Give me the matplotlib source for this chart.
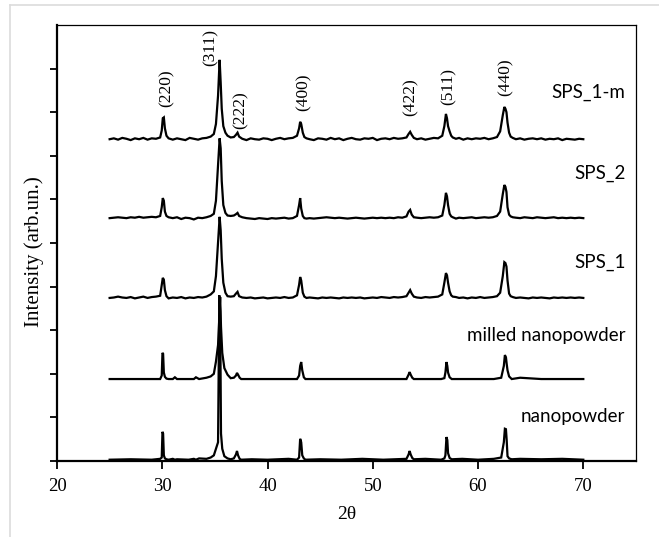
import matplotlib
matplotlib.use("Agg")
import matplotlib.pyplot as plt
from matplotlib.lines import Line2D

# 2-theta grid shared by the three sintered (SPS) patterns
two_theta_sps = [
    25.0, 25.4, 25.8, 26.2, 26.6, 27.0, 27.4, 27.8, 28.2, 28.6, 29.0, 29.4, 29.8,
    29.95, 30.05, 30.15, 30.25, 30.4, 30.6,
    31.0, 31.4, 31.8, 32.2, 32.6, 33.0, 33.4, 33.8, 34.2, 34.6, 34.9,
    35.1, 35.3, 35.45, 35.55, 35.65, 35.8, 36.0, 36.2, 36.5,
    36.8, 37.0, 37.15, 37.3, 37.6,
    38.0, 38.4, 38.8, 39.2, 39.6, 40.0, 40.4, 40.8, 41.2, 41.6, 42.0, 42.4, 42.8,
    43.0, 43.1, 43.2, 43.35, 43.5, 43.7,
    44.0, 44.4, 44.8, 45.2, 45.6, 46.0, 46.4, 46.8, 47.2, 47.6, 48.0, 48.4,
    48.8, 49.2, 49.6, 50.0, 50.4, 50.8, 51.2, 51.6, 52.0, 52.4, 52.8, 53.2,
    53.4, 53.55, 53.7, 53.9,
    54.2, 54.6, 55.0, 55.4, 55.8, 56.2, 56.6,
    56.8, 56.95, 57.05, 57.15, 57.3, 57.45, 57.6,
    57.9, 58.2, 58.6, 59.0, 59.4, 59.8, 60.2, 60.6, 61.0, 61.4, 61.8,
    62.1, 62.35, 62.5, 62.6, 62.7, 62.8, 62.95, 63.1, 63.3,
    63.6, 64.0, 64.4, 64.8, 65.2, 65.6, 66.0, 66.4, 66.8, 67.2, 67.6, 68.0,
    68.4, 68.8, 69.2, 69.6, 70.0,
]

sps_1m = [
    0.00, 0.02, -0.01, 0.03, 0.01, -0.02, 0.02, 0.00, 0.03, -0.01, 0.02, 0.01, 0.04,
    0.20, 0.48, 0.50, 0.25, 0.08, 0.02,
    -0.01, 0.02, 0.00, -0.02, 0.03, 0.01, -0.01, 0.02, 0.03, 0.06, 0.12,
    0.35, 1.00, 1.82, 1.30, 0.70, 0.30, 0.15, 0.08, 0.04,
    0.05, 0.10, 0.15, 0.06, 0.01,
    -0.02, 0.02, 0.00, -0.01, 0.02, 0.01, -0.02, 0.01, 0.03, 0.00, 0.02, 0.03, 0.08,
    0.25, 0.40, 0.35, 0.15, 0.05, 0.02,
    0.00, -0.02, 0.02, 0.01, -0.01, 0.03, 0.00, 0.02, -0.02, 0.01, 0.03, 0.00,
    -0.01, 0.02, 0.01, 0.03, -0.02, 0.01, 0.02, 0.00, 0.03, 0.01, 0.02, 0.04,
    0.12, 0.17, 0.10, 0.03,
    0.00, 0.02, -0.01, 0.01, 0.03, 0.02, 0.08,
    0.30, 0.58, 0.48, 0.30, 0.18, 0.08, 0.04,
    0.01, 0.03, -0.01, 0.02, 0.00, 0.02, 0.01, 0.03, 0.00, 0.02, 0.05,
    0.18, 0.55, 0.74, 0.70, 0.62, 0.38, 0.15, 0.06, 0.03,
    0.00, 0.02, -0.01, 0.01, 0.02, 0.00, 0.02, -0.01, 0.01, 0.00, 0.02, -0.02,
    0.01, 0.00, -0.01, 0.01, 0.00,
]

sps_2 = [
    0.00, 0.01, 0.02, 0.01, 0.00, 0.02, 0.01, 0.03, 0.01, 0.02, 0.03, 0.02, 0.05,
    0.25, 0.46, 0.40, 0.15, 0.05, 0.02,
    0.00, 0.02, -0.02, 0.01, 0.00, -0.03, 0.01, 0.00, 0.02, 0.05, 0.10,
    0.40, 1.20, 1.83, 1.60, 0.85, 0.30, 0.12, 0.06, 0.05,
    0.06, 0.09, 0.12, 0.05, 0.02,
    0.00, -0.01, -0.02, 0.00, -0.01, -0.02, 0.00, -0.01, 0.00, 0.01, -0.01, 0.00, 0.05,
    0.30, 0.46, 0.22, 0.05, 0.00, -0.01,
    0.00, -0.01, 0.00, 0.01, 0.02, 0.01, 0.00, 0.01, 0.00, -0.01, 0.00, 0.01,
    0.00, -0.01, 0.00, 0.01, 0.00, 0.01, 0.00, 0.01, 0.00, 0.02, 0.01, 0.04,
    0.15, 0.19, 0.08, 0.02,
    0.01, 0.00, 0.01, 0.02, 0.01, 0.02, 0.06,
    0.30, 0.58, 0.50, 0.30, 0.10, 0.04, 0.02,
    -0.01, 0.01, 0.00, 0.01, 0.02, 0.00, 0.01, 0.02, 0.01, 0.02, 0.05,
    0.15, 0.55, 0.76, 0.72, 0.60, 0.25, 0.08, 0.04, 0.02,
    0.01, 0.00, 0.02, 0.01, 0.00, 0.02, 0.01, 0.00, 0.01, 0.02, 0.00, 0.01,
    0.00, 0.01, 0.00, 0.01, 0.00,
]

sps_1 = [
    0.00, 0.01, 0.03, 0.01, 0.00, 0.02, -0.01, 0.01, 0.03, 0.00, 0.02, 0.03, 0.05,
    0.30, 0.46, 0.42, 0.18, 0.04, -0.01,
    0.01, 0.00, 0.02, -0.01, 0.01, 0.00, 0.02, 0.01, 0.03, 0.08, 0.15,
    0.50, 1.30, 1.86, 1.55, 0.90, 0.35, 0.12, 0.04, 0.03,
    0.04, 0.10, 0.14, 0.04, 0.01,
    0.00, 0.01, -0.01, 0.00, 0.01, -0.01, 0.00, 0.01, 0.00, 0.02, 0.00, 0.01, 0.06,
    0.30, 0.48, 0.40, 0.12, 0.03, 0.00,
    0.01, 0.00, -0.01, 0.01, 0.00, 0.01, 0.00, -0.01, 0.01, 0.00, 0.01, 0.00,
    0.01, -0.01, 0.00, 0.01, 0.00, 0.02, 0.01, 0.00, 0.02, 0.01, 0.02, 0.04,
    0.12, 0.18, 0.10, 0.03,
    0.01, 0.00, 0.02, 0.01, 0.02, 0.03, 0.08,
    0.35, 0.57, 0.52, 0.35, 0.15, 0.06, 0.03,
    0.02, 0.00, 0.01, -0.01, 0.01, 0.00, 0.02, 0.00, 0.01, 0.02, 0.04,
    0.12, 0.50, 0.82, 0.80, 0.72, 0.40, 0.10, 0.04, 0.02,
    0.00, 0.01, 0.00, -0.01, 0.01, 0.00, 0.01, 0.00, -0.01, 0.01, 0.00, 0.01,
    0.00, 0.01, 0.00, 0.01, 0.00,
]

# 2-theta grid shared by the two powder patterns
two_theta_powder = [
    25.0, 27.0, 29.0, 29.8,
    29.95, 30.02, 30.08, 30.15, 30.25, 30.4, 30.6,
    31.0, 31.2, 31.4, 32.5, 33.0, 33.2, 33.5, 34.2, 34.6, 34.9,
    35.1, 35.3, 35.42, 35.5, 35.58, 35.7, 35.9, 36.2, 36.5,
    36.8, 37.0, 37.1, 37.2, 37.35, 37.5,
    38.5, 40.0, 42.0, 42.8,
    43.0, 43.1, 43.2, 43.3, 43.45, 43.6,
    45.0, 47.0, 49.0, 51.0, 53.2,
    53.4, 53.5, 53.6, 53.75, 53.9,
    55.0, 56.5, 56.8,
    56.9, 57.0, 57.08, 57.15, 57.3, 57.5,
    58.5, 60.0, 61.5, 62.2,
    62.45, 62.55, 62.65, 62.72, 62.8, 62.95, 63.2,
    64.0, 66.0, 68.0, 70.0,
]

milled = [
    0.00, 0.00, 0.00, 0.00,
    0.08, 0.60, 0.58, 0.15, 0.05, 0.01, 0.00,
    0.00, 0.04, 0.00, 0.00, 0.00, 0.04, 0.00, 0.03, 0.06, 0.12,
    0.40, 0.78, 1.40, 1.88, 1.20, 0.60, 0.25, 0.10, 0.02,
    0.03, 0.08, 0.14, 0.10, 0.03, 0.00,
    0.00, 0.00, 0.00, 0.00,
    0.08, 0.30, 0.39, 0.20, 0.04, 0.00,
    0.00, 0.00, 0.00, 0.00, 0.00,
    0.10, 0.16, 0.10, 0.03, 0.00,
    0.00, 0.00, 0.02,
    0.15, 0.39, 0.30, 0.15, 0.04, 0.00,
    0.00, 0.00, 0.00, 0.03,
    0.30, 0.55, 0.50, 0.35, 0.20, 0.06, 0.00,
    0.03, 0.00, 0.00, 0.00,
]

nanopowder = [
    0.00, 0.01, 0.00, 0.02,
    0.05, 0.64, 0.60, 0.10, 0.03, 0.01, 0.00,
    0.02, 0.00, 0.01, 0.00, 0.02, 0.00, 0.03, 0.02, 0.05, 0.10,
    0.25, 0.40, 3.77, 3.40, 0.60, 0.25, 0.08, 0.03, 0.01,
    0.03, 0.12, 0.20, 0.10, 0.02, 0.00,
    0.01, 0.00, 0.02, 0.00,
    0.05, 0.48, 0.40, 0.10, 0.03, 0.00,
    0.01, 0.00, 0.02, 0.00, 0.02,
    0.12, 0.20, 0.12, 0.04, 0.01,
    0.02, 0.00, 0.03,
    0.10, 0.52, 0.45, 0.15, 0.04, 0.01,
    0.02, 0.00, 0.02, 0.05,
    0.40, 0.71, 0.70, 0.45, 0.08, 0.03, 0.01,
    0.02, 0.01, 0.02, 0.00,
]

series_names = ["nanopowder", "milled nanopowder", "SPS_1", "SPS_2", "SPS_1-m"]
series_offsets = [0.03, 1.88, 3.74, 5.57, 7.38]

hkl_labels = ["(220)", "(311)", "(222)", "(400)", "(422)", "(511)", "(440)"]
hkl_positions = [30.4, 34.55, 37.4, 43.4, 53.6, 57.2, 62.6]

serif = "Liberation Serif"
sans = "Lato"

fig = plt.figure(figsize=(6.59, 5.37), dpi=100)
ax = fig.add_axes([0.0865, 0.1415, 0.8785, 0.812])

curves = [
    (two_theta_powder, nanopowder),
    (two_theta_powder, milled),
    (two_theta_sps, sps_1),
    (two_theta_sps, sps_2),
    (two_theta_sps, sps_1m),
]
for (x, y), off in zip(curves, series_offsets):
    ax.plot(x, [v + off for v in y], color="black", lw=1.6, solid_joinstyle="miter")

ax.set_xlim(20, 75)
ax.set_ylim(0, 10)
ax.set_xticks([20, 30, 40, 50, 60, 70])
ax.set_yticks(range(0, 10))
ax.set_yticklabels([])
ax.tick_params(axis="both", direction="out", width=1.3, colors="black")
ax.tick_params(axis="x", length=6, pad=6, labelsize=13.5)
ax.tick_params(axis="y", length=5)
for lab in ax.get_xticklabels():
    lab.set_fontfamily(serif)

for side, lw in [("left", 1.6), ("bottom", 1.6), ("top", 0.9), ("right", 0.9)]:
    ax.spines[side].set_linewidth(lw)
    ax.spines[side].set_color("black")

ax.set_xlabel("2θ", fontfamily=serif, fontsize=14, labelpad=8)
ax.set_ylabel("Intensity (arb.un.)", fontfamily=serif, fontsize=15)
ax.yaxis.set_label_coords(-0.022, 0.48)

# series names at the right
label_y = [1.03, 2.87, 4.56, 6.6, 8.46]
for name, yy in zip(series_names, label_y):
    ax.text(74.0, yy, name, ha="right", va="center", fontfamily=sans, fontsize=13.5)

# Miller indices above the top pattern
hkl_y = [8.56, 9.49, 8.05, 8.46, 8.35, 8.58, 8.8]
for lab, xx, yy in zip(hkl_labels, hkl_positions, hkl_y):
    ax.text(xx, yy, lab, rotation=90, ha="center", va="center",
            fontfamily=serif, fontsize=12.5)

# light frame around the picture (top and left edges)
fig.add_artist(Line2D([10 / 659, 1.0], [1 - 5 / 537, 1 - 5 / 537],
                      transform=fig.transFigure, color="#dcdcdc", lw=1.2))
fig.add_artist(Line2D([10 / 659, 10 / 659], [0.0, 1 - 5 / 537],
                      transform=fig.transFigure, color="#dcdcdc", lw=1.2))

fig.savefig("out.png", dpi=100)
